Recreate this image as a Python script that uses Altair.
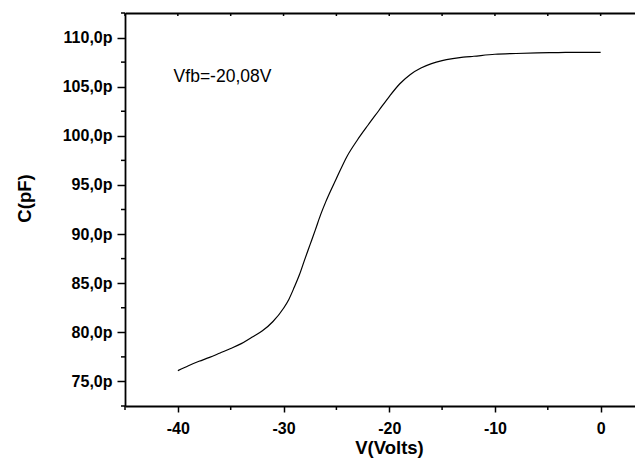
import altair as alt
import pandas as pd

# Measured C-V curve
volts = [-40, -39, -38, -37, -36, -35, -34, -33, -32, -31, -30, -29.5, -29,
         -28.5, -28, -27.5, -27, -26.5, -26, -25, -24, -23, -22, -21, -20,
         -19, -18, -17, -16, -15, -14, -13, -12, -10, -8, -6, -4, -2, 0]
cap_pf = [76.1, 76.6, 77.05, 77.45, 77.9, 78.35, 78.85, 79.5, 80.15, 81.1,
          82.45, 83.35, 84.55, 85.85, 87.4, 88.9, 90.4, 91.95, 93.3, 95.65,
          97.9, 99.6, 101.1, 102.55, 104.0, 105.3, 106.25, 106.9, 107.35,
          107.65, 107.85, 108.0, 108.1, 108.3, 108.38, 108.44, 108.47, 108.5,
          108.5]

x_major = [-40, -30, -20, -10, 0]
x_minor = [-45, -35, -25, -15, -5]
x_all = [-45, -40, -35, -30, -25, -20, -15, -10, -5, 0]
y_major = [75, 80, 85, 90, 95, 100, 105, 110]
y_minor = [72.5, 77.5, 82.5, 87.5, 92.5, 97.5, 102.5, 107.5, 112.5]

annot_text = ["Vfb=-20,08V"]
annot_v = [-40.4]
annot_c = [105.5]

FONT = "Liberation Sans"
W, H = 510, 393

df = pd.DataFrame({"V": volts, "C": cap_pf})
ann = pd.DataFrame({"V": annot_v, "C": annot_c, "t": annot_text})
top_ticks = pd.DataFrame({"V": x_all})
xmin_df = pd.DataFrame({"V": x_minor})
ymin_df = pd.DataFrame({"C": y_minor})

xscale = alt.Scale(domain=[-45, 3.25], nice=False, zero=False)
yscale = alt.Scale(domain=[72.5, 112.5], nice=False, zero=False)

x_axis = alt.Axis(
    values=x_major,
    labelExpr="'' + datum.value",
    labelOverlap=False,
    tickSize=6,
    labelPadding=8,
    title="V(Volts)",
    titleX=264,
    titleY=47,
    titleBaseline="alphabetic",
    grid=False,
)
y_axis = alt.Axis(
    values=y_major,
    labelExpr="datum.value + ',0p'",
    labelOverlap=False,
    tickSize=8,
    labelPadding=5,
    title="C(pF)",
    titleX=-101,
    titleY=185,
    titleAngle=270,
    titleAlign="center",
    titleBaseline="middle",
    grid=False,
)

line = alt.Chart(df).mark_line(color="black", strokeWidth=1.2,
                               interpolate="monotone").encode(
    x=alt.X("V:Q", scale=xscale, axis=x_axis),
    y=alt.Y("C:Q", scale=yscale, axis=y_axis),
)

text = alt.Chart(ann).mark_text(
    align="left", baseline="alphabetic", font=FONT, fontSize=17.5, color="black"
).encode(
    x=alt.X("V:Q", scale=xscale, axis=None),
    y=alt.Y("C:Q", scale=yscale),
    text="t:N",
)

# top frame line (axis domain) with small inward ticks
top = alt.Chart(top_ticks).mark_rule(color="black", strokeWidth=1.5).encode(
    x=alt.X("V:Q", scale=xscale,
            axis=alt.Axis(orient="top", labels=False, ticks=False, title=None,
                          grid=False, domainWidth=1.8)),
    y=alt.value(0),
    y2=alt.value(3),
)

# minor ticks, bottom axis
xminor = alt.Chart(xmin_df).mark_rule(color="black", strokeWidth=1.5).encode(
    x=alt.X("V:Q", scale=xscale, axis=None),
    y=alt.value(H),
    y2=alt.value(H + 4),
)

# minor ticks, left axis
yminor = alt.Chart(ymin_df).mark_rule(color="black", strokeWidth=1.5).encode(
    y=alt.Y("C:Q", scale=yscale),
    x=alt.value(-4),
    x2=alt.value(0),
)

chart = alt.layer(line, text, top, xminor, yminor).resolve_axis(
    x="independent"
).properties(
    width=W,
    height=H,
    autosize=alt.AutoSizeParams(type="none"),
    padding={"left": 117, "top": 5, "right": 0, "bottom": 54},
    background="white",
).configure_view(
    stroke=None
).configure_axis(
    domainColor="black",
    domainWidth=1.8,
    tickColor="black",
    tickWidth=1.5,
    labelFont=FONT,
    labelFontSize=16,
    labelFontWeight="bold",
    labelColor="black",
    titleFont=FONT,
    titleFontSize=18.5,
    titleFontWeight="bold",
    titleColor="black",
)

chart.save("out.html", embed_options={"renderer": "svg", "actions": False})
